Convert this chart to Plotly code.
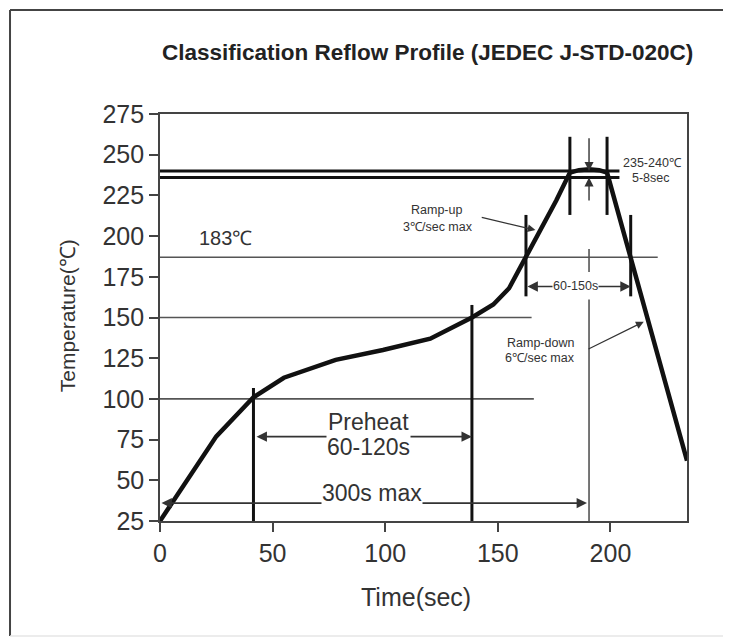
import plotly.graph_objects as go

# ---------------- data ----------------
profile_time = [0, 12, 25, 41.5, 55, 78, 99, 120, 138.5, 148, 155, 162, 169, 176, 182, 186, 190.5, 195, 198.5, 209, 234]
profile_temp = [25, 50, 77, 101, 113, 124, 130, 137, 150, 158, 168, 186, 204, 222, 239, 240.5, 241, 240.5, 239, 187, 62]

x_ticks = [0, 50, 100, 150, 200]
y_ticks = [25, 50, 75, 100, 125, 150, 175, 200, 225, 250, 275]

# horizontal reference lines: level, start time, end time
peak_levels = [240, 236]
peak_line_end = 204
liquidus_level = 187
liquidus_end = 221
soak_levels = [150, 100]
soak_ends = [165, 166]

# thick vertical markers: time, bottom temp, top temp
preheat_marks = [(41.5, 25, 106.7), (138.5, 25, 157.7)]
peak_marks = [(182, 213, 261), (198.5, 213, 261)]
liquidus_marks = [(162.5, 163, 213), (209, 163, 213)]

# thin vertical marker at peak time
peak_time = 190.5
peak_thin_segments = [(25, 161), (178, 192)]

# span arrows: level, start, end
preheat_span = (76.8, 42.2, 138.5)
total_span = (36, 0, 189.6)
liquidus_span = (169, 162.5, 209)

# pointer arrows: tail (t, T) -> head (t, T)
rampup_arrow = ((142.2, 211.7), (166.7, 203.7))
rampdown_arrow = ((189.6, 130.2), (214.8, 147.4))
peak_down_arrow = ((peak_time, 261), (peak_time, 240))
peak_up_arrow = ((peak_time, 221), (peak_time, 236))

# labels: text, t, T, size
labels_big = [("183℃", 29, 199, 20), ("Preheat", 92.4, 86, 23), ("60-120s", 92.4, 70.6, 23),
              ("300s max", 94.1, 42.5, 23)]
labels_small = [("Ramp-up", 122.9, 216), ("3℃/sec max", 123.6, 205.8),
                ("235-240℃", 218.7, 244.9), ("5-8sec", 218.2, 235.7),
                ("60-150s", 184.4, 169.3),
                ("Ramp-down", 168.9, 134.3), ("6℃/sec max", 168.9, 125.1)]

title_text = "Classification Reflow Profile (JEDEC J-STD-020C)"
x_title = "Time(sec)"
y_title = "Temperature(℃)"

FONT = "Liberation Sans, Arial, sans-serif"
TXT = "#333333"

fig = go.Figure()


def add_segments(segs, width, color):
    xs, ys = [], []
    for (x0, y0, x1, y1) in segs:
        xs += [x0, x1, None]
        ys += [y0, y1, None]
    fig.add_trace(go.Scatter(x=xs, y=ys, mode="lines", line=dict(color=color, width=width),
                             hoverinfo="skip", showlegend=False))


# thin reference lines
thin = [(0, liquidus_level, liquidus_end, liquidus_level)]
thin += [(0, lv, e, lv) for lv, e in zip(soak_levels, soak_ends)]
thin += [(peak_time, a, peak_time, b) for a, b in peak_thin_segments]
add_segments(thin, 1.6, "#555555")

# thick reference lines
thick = [(0, lv, peak_line_end, lv) for lv in peak_levels]
thick += [(t, a, t, b) for t, a, b in preheat_marks + peak_marks + liquidus_marks]
add_segments(thick, 3, "#111111")

# profile
fig.add_trace(go.Scatter(x=profile_time, y=profile_temp, mode="lines",
                         line=dict(color="#111111", width=4.5), hoverinfo="skip", showlegend=False))

ann = []


def arrow(tail, head, both=False, width=1.6, color="#333333"):
    ann.append(dict(x=head[0], y=head[1], ax=tail[0], ay=tail[1], xref="x", yref="y",
                    axref="x", ayref="y", text="", showarrow=True, arrowhead=2, arrowsize=1.3,
                    arrowwidth=width, arrowcolor=color, arrowside="end+start" if both else "end",
                    startarrowhead=2, startarrowsize=1.3, standoff=0, startstandoff=0))


for lv, a, b in [preheat_span, total_span, liquidus_span]:
    arrow((a, lv), (b, lv), both=True)
arrow(*rampup_arrow, width=1.2)
arrow(*rampdown_arrow, width=1.2)
arrow(*peak_down_arrow, width=1.4)
arrow(*peak_up_arrow, width=1.4)

for txt, t, T, s in labels_big:
    ann.append(dict(x=t, y=T, xref="x", yref="y", text=txt, showarrow=False,
                    xanchor="center", yanchor="middle",
                    font=dict(family=FONT, size=s, color=TXT), bgcolor="white" if txt != "183℃" else None,
                    borderpad=0))
for txt, t, T in labels_small:
    ann.append(dict(x=t, y=T, xref="x", yref="y", text=txt, showarrow=False,
                    xanchor="center", yanchor="middle",
                    font=dict(family=FONT, size=12.5, color=TXT), bgcolor="white", borderpad=0))

# title and axis titles
ann.append(dict(x=0.5085, y=1.1523, xref="paper", yref="paper", text="<b>" + title_text + "</b>",
                xanchor="center", yanchor="middle",
                showarrow=False, font=dict(family=FONT, size=22.5, color="#222222")))
ann.append(dict(x=0.485, y=-0.187, xref="paper", yref="paper", text=x_title, showarrow=False,
                xanchor="center", yanchor="middle",
                font=dict(family=FONT, size=25, color=TXT)))
ann.append(dict(x=-0.175, y=0.505, xref="paper", yref="paper", text=y_title, showarrow=False,
                xanchor="center", yanchor="middle",
                textangle=-90, font=dict(family=FONT, size=21, color=TXT)))

shapes = [
    dict(type="line", xref="paper", yref="paper", x0=-0.2846, x1=1.09, y0=1.2555, y1=1.2555,
         line=dict(color="#444444", width=2)),
    dict(type="line", xref="paper", yref="paper", x0=-0.2846, x1=-0.2846, y0=1.2555, y1=-0.2826,
         line=dict(color="#444444", width=2)),
    dict(type="line", xref="paper", yref="paper", x0=-0.2846, x1=1.09, y0=-0.2826, y1=-0.2826,
         line=dict(color="#e6e6e6", width=1.5)),
]

axis_common = dict(showline=True, linecolor="#444444", linewidth=1.6, mirror=True, showgrid=False,
                   zeroline=False, ticks="outside", ticklen=9, tickwidth=1.5, tickcolor="#444444",
                   tickfont=dict(family=FONT, size=25, color=TXT))

# the page adds an 8px body margin, so the figure is sized and offset to compensate
fig.update_layout(
    width=723, height=632,
    margin=dict(l=152, r=44, t=106, b=119),
    plot_bgcolor="white", paper_bgcolor="white",
    xaxis=dict(range=[0, 234], tickvals=x_ticks, **axis_common),
    yaxis=dict(range=[25, 275], tickvals=y_ticks, **axis_common),
    annotations=ann, shapes=shapes,
)

fig.write_html("out.html")
